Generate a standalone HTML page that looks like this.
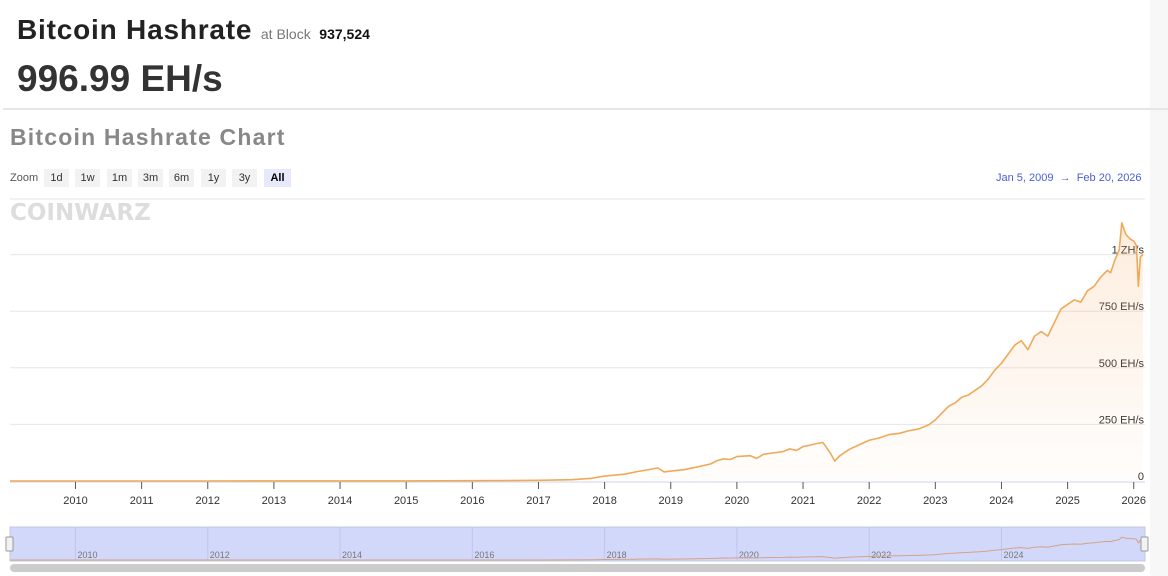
<!DOCTYPE html>
<html><head><meta charset="utf-8"><style>
body{margin:0;width:1168px;height:576px;background:#fff;font-family:"Liberation Sans",sans-serif;overflow:hidden;position:relative}
.abs{position:absolute}
.btn{position:absolute;top:169px;height:18px;background:#f2f2f2;font-size:11px;color:#333;text-align:center;line-height:18px;width:25px}
</style></head><body>
<div class="abs" style="left:1150px;top:0;width:18px;height:576px;background:#f7f7f7"></div>
<div class="abs" style="left:17px;top:14px;font-size:28px;font-weight:bold;color:#222;letter-spacing:0.8px">Bitcoin Hashrate <span style="font-size:14px;font-weight:normal;color:#777;letter-spacing:0">at Block</span> <span style="font-size:14px;color:#111;letter-spacing:0">937,524</span></div>
<div class="abs" style="left:17px;top:58px;font-size:37px;font-weight:bold;color:#333">996.99 EH/s</div>
<div class="abs" style="left:3px;top:108px;width:1165px;height:2px;background:#e6e6e6"></div>
<div class="abs" style="left:10px;top:124px;font-size:23px;font-weight:bold;color:#888;letter-spacing:1.2px">Bitcoin Hashrate Chart</div>
<div class="abs" style="left:10px;top:172px;font-size:11px;color:#555">Zoom</div>
<div class="btn" style="left:44px">1d</div>
<div class="btn" style="left:75px">1w</div>
<div class="btn" style="left:107px">1m</div>
<div class="btn" style="left:138px">3m</div>
<div class="btn" style="left:169px">6m</div>
<div class="btn" style="left:201px">1y</div>
<div class="btn" style="left:232px">3y</div>
<div class="btn" style="left:264px;width:27px;background:#e6e9fb;font-weight:bold;color:#000">All</div>
<div class="abs" style="left:996px;top:172px;font-size:11px;color:#4a5fd0">Jan 5, 2009 &nbsp;→&nbsp; Feb 20, 2026</div>
<div class="abs" style="left:10px;top:200px;font-size:23px;font-weight:900;color:#ddd;letter-spacing:0px;font-family:'DejaVu Sans',sans-serif">COINWARZ</div>
<svg id="chart" class="abs" style="left:0;top:0" width="1168" height="576"></svg>
<script>
const years=[2010,2011,2012,2013,2014,2015,2016,2017,2018,2019,2020,2021,2022,2023,2024,2025,2026];
const navYears=[2010,2012,2014,2016,2018,2020,2022,2024];
const yTicks=[0,250,500,750,1000];
const yTickLabels=["0","250 EH/s","500 EH/s","750 EH/s","1 ZH/s"];
const dates=[2009.01,2012,2014,2015,2016,2016.5,2017,2017.5,2017.8,2018,2018.3,2018.5,2018.7,2018.8,2018.9,2019,2019.2,2019.4,2019.6,2019.7,2019.8,2019.9,2020,2020.2,2020.3,2020.4,2020.5,2020.7,2020.8,2020.9,2021,2021.1,2021.2,2021.3,2021.35,2021.42,2021.48,2021.55,2021.7,2021.85,2022,2022.15,2022.3,2022.45,2022.6,2022.75,2022.9,2023,2023.1,2023.2,2023.3,2023.4,2023.5,2023.6,2023.7,2023.8,2023.9,2024,2024.1,2024.2,2024.3,2024.4,2024.5,2024.6,2024.7,2024.8,2024.9,2025,2025.1,2025.2,2025.3,2025.4,2025.5,2025.6,2025.65,2025.72,2025.78,2025.82,2025.88,2025.94,2026.0,2026.04,2026.07,2026.1,2026.14];
const hashrate=[0,0.02,0.2,0.4,1.2,1.8,3,6,12,22,30,42,52,58,40,44,50,62,75,90,98,95,108,112,100,118,122,130,142,135,152,158,165,170,150,120,88,110,140,160,180,190,205,210,222,230,248,270,300,330,345,370,380,400,420,450,490,520,560,600,620,580,640,660,640,700,760,780,800,790,840,860,900,930,920,980,1020,1140,1090,1070,1060,1040,860,990,1000];
const X0=10,X1=1143,T0=2009.01,T1=2026.14;
const xs=t=>X0+(t-T0)/(T1-T0)*(X1-X0);
const ys=v=>481-v*0.2264;
const nys=v=>560-v*0.02;
const svg=document.getElementById('chart');
const NS='http://www.w3.org/2000/svg';
function mk(tag,attrs){const e=document.createElementNS(NS,tag);for(const k in attrs)e.setAttribute(k,attrs[k]);svg.appendChild(e);return e;}
yTicks.forEach((v,i)=>{
 if(v>0){const g=mk('line',{x1:10,x2:1145,y1:ys(v),y2:ys(v),stroke:'#e6e6e6','stroke-width':1});
 
 }
 const t=mk('text',{x:1144,y:ys(v)-1,'text-anchor':'end','font-size':11,fill:'#333'});
 t.textContent=yTickLabels[i];
 
 
});
const plotTop=mk('line',{x1:10,x2:1145,y1:199,y2:199,stroke:'#e6e6e6'});


const ax=mk('line',{x1:10,x2:1145,y1:482,y2:482,stroke:'#ccd6eb'});


years.forEach(y=>{
 const x=xs(y);
 const tk=mk('line',{x1:x,x2:x,y1:482,y2:489,stroke:'#555'});
 
 
 const t=mk('text',{x:x,y:504,'text-anchor':'middle','font-size':11,fill:'#333'});
 t.textContent=y;
 
 
});
const pts=dates.map((d,i)=>xs(d)+','+ys(hashrate[i]));
const defs=mk('defs',{});
defs.innerHTML='<linearGradient id="g" x1="0" y1="0" x2="0" y2="1"><stop offset="0" stop-color="#f5a55a" stop-opacity="0.2"/><stop offset="1" stop-color="#f5a55a" stop-opacity="0.02"/></linearGradient>';
const area=mk('polygon',{points:xs(T0)+','+ys(0)+' '+pts.join(' ')+' '+xs(T1)+','+ys(0),fill:'url(#g)'});


const line=mk('polyline',{points:pts.join(' '),fill:'none',stroke:'#f0a95a','stroke-width':1.6,'stroke-linejoin':'round'});


const nav=mk('rect',{x:10,y:527,width:1135,height:34,fill:'#d1d8fa',stroke:'#c4c8dd'});


navYears.forEach(y=>{
 const x=xs(y);
 const l=mk('line',{x1:x,x2:x,y1:527,y2:561,stroke:'#bfc6ee'});
 
 
 const t=mk('text',{x:x+2,y:558,'font-size':9,fill:'#777'});
 t.textContent=y;
 
 
});
const npts=dates.map((d,i)=>xs(d)+','+nys(hashrate[i]));
const nl=mk('polyline',{points:npts.join(' '),fill:'none',stroke:'#d9a088','stroke-width':1});


[6,1141].forEach((x,i)=>{
 const h=mk('rect',{x:x,y:537,width:7,height:14,fill:'#f2f2f2',stroke:'#999',rx:1});
 
 
});
const sb=mk('rect',{x:10,y:564,width:1135,height:8,rx:4,fill:'#cccccc'});


</script>
</body></html>
